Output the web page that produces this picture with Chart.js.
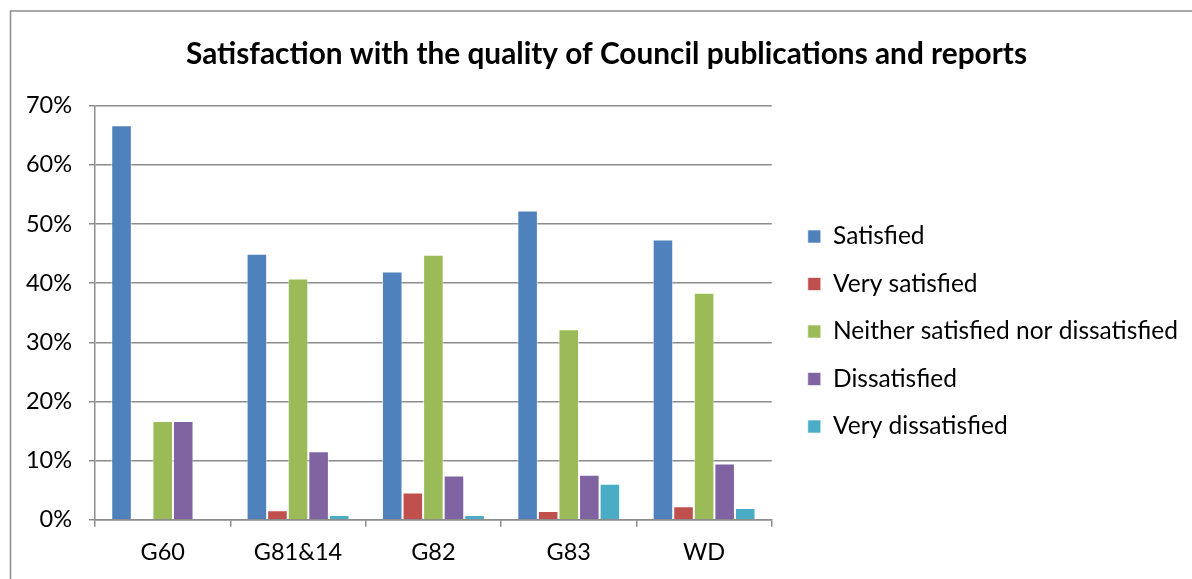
<!DOCTYPE html>
<html>
<head>
<meta charset="utf-8">
<script src="https://cdn.jsdelivr.net/npm/chart.js@4/dist/chart.umd.min.js"></script>
<style>
  body { margin: 0; background: #fff; }
  #wrap { width: 1192px; height: 579px; }
</style>
</head>
<body>
<div id="wrap"><canvas id="myChart" width="1192" height="579"></canvas></div>
<script>
var categories = ['G60', 'G81&14', 'G82', 'G83', 'WD'];
var satisfied = [66.7, 45.0, 42.0, 52.3, 47.4];
var verySatisfied = [0, 1.6, 4.6, 1.5, 2.3];
var neither = [16.7, 40.8, 44.8, 32.2, 38.4];
var dissatisfied = [16.7, 11.6, 7.5, 7.6, 9.5];
var veryDissatisfied = [0, 0.8, 0.8, 6.1, 2.0];
var yTicks = [0, 10, 20, 30, 40, 50, 60, 70];

var font = 'Lato, "Open Sans", sans-serif';
var gridColor = '#8c8c8c';

// frame around the chart like the office chart border
var framePlugin = {
    id: 'frame',
    beforeDraw: function (chart) {
        var ctx = chart.ctx;
        ctx.save();
        ctx.fillStyle = '#fff';
        ctx.fillRect(0, 0, chart.width, chart.height);
        ctx.strokeStyle = '#8c8c8c';
        ctx.lineWidth = 1.5;
        ctx.beginPath();
        ctx.moveTo(10.5, chart.height);
        ctx.lineTo(10.5, 11);
        ctx.lineTo(chart.width, 11);
        ctx.stroke();
        ctx.restore();
    }
};

// nudge legend and title to where excel puts them
var boxShift = {
    id: 'boxShift',
    afterLayout: function (chart) {
        var lg = chart.legend;
        lg.left += 13; lg.right += 13;
        lg.top += 32; lg.bottom += 32;
        var t = chart.titleBlock;
        t.left += 13; t.right += 13;
    }
};

function ds(label, data, color) {
    return {
        label: label,
        data: data,
        backgroundColor: color,
        borderColor: 'rgba(255,255,255,0.6)',
        borderWidth: 1,
        categoryPercentage: 0.76,
        barPercentage: 1.0
    };
}

const data = {
    labels: categories,
    datasets: [
        ds('Satisfied', satisfied, '#4F81BD'),
        ds('Very satisfied', verySatisfied, '#C0504D'),
        ds('Neither satisfied nor dissatisfied', neither, '#9BBB59'),
        ds('Dissatisfied', dissatisfied, '#8064A2'),
        ds('Very dissatisfied', veryDissatisfied, '#4BACC6')
    ]
};

const config = {
    type: 'bar',
    data: data,
    plugins: [framePlugin, boxShift],
    options: {
        responsive: false,
        animation: false,
        layout: {
            padding: { left: 12, right: 17, top: 20, bottom: 0 }
        },
        plugins: {
            title: {
                display: true,
                text: 'Satisfaction with the quality of Council publications and reports',
                color: '#000',
                font: { family: font, size: 29.8, weight: 'bold' },
                padding: { top: 17, bottom: 33 }
            },
            legend: {
                position: 'right',
                maxWidth: 460,
                labels: {
                    color: '#000',
                    font: { family: font, size: 24.5 },
                    boxWidth: 13,
                    boxHeight: 13,
                    padding: 23
                }
            },
            tooltip: { enabled: false }
        },
        scales: {
            x: {
                grid: {
                    offset: true,
                    drawOnChartArea: false,
                    drawTicks: true,
                    tickLength: 7,
                    color: gridColor,
                    lineWidth: 1.5
                },
                border: { color: gridColor, width: 1.5 },
                ticks: {
                    color: '#000',
                    font: { family: font, size: 23.5 },
                    padding: 12
                }
            },
            y: {
                min: 0,
                max: 70,
                afterBuildTicks: function (scale) {
                    scale.ticks = yTicks.map(function (v) { return { value: v }; });
                },
                afterFit: function (scale) {
                    scale.width = 83;
                },
                grid: {
                    color: gridColor,
                    lineWidth: 1.5,
                    drawTicks: true,
                    tickLength: 6
                },
                border: { color: gridColor, width: 1.5 },
                ticks: {
                    color: '#000',
                    font: { family: font, size: 23.5 },
                    padding: 17,
                    callback: function (v) { return v + '%'; }
                }
            }
        }
    }
};

new Chart(document.getElementById('myChart'), config);
</script>
</body>
</html>
